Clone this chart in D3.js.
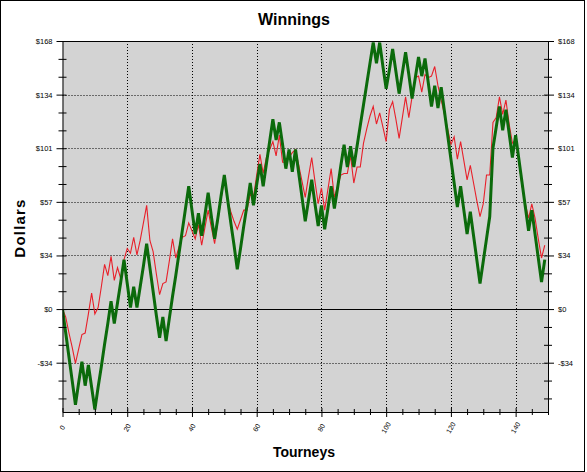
<!DOCTYPE html>
<html><head><meta charset="utf-8">
<script src="https://cdn.jsdelivr.net/npm/d3@7/dist/d3.min.js"></script>
<style>
body{margin:0;background:#fff;}
svg{display:block;}
text{font-family:"Liberation Sans",Arial,sans-serif;}
</style>
</head><body>
<svg id="chart" width="587" height="472"></svg>
<script>
// ---- data ----
const redSeries = [0,-5,-15,-24,-34,-25,-16,-15,-3,10,
  -3,1,14,28,21,33,18,26,19,31,
  38,35,45,34,43,54,65,43,36,22,
  9,16,17,30,44,32,39,45,46,54,
  49,44,53,40,51,62,51,41,55,69,
  82,68,61,55,50,56,62,62,72,70,
  84,97,85,95,100,105,96,109,92,92,
  95,98,100,90,80,70,83,95,80,66,
  76,62,75,88,70,77,84,85,85,96,
  79,89,89,104,113,121,127,116,123,114,
  105,125,130,119,107,120,133,120,133,145,
  146,136,147,145,146,152,140,131,122,113,
  103,108,94,105,93,81,90,79,68,58,
  66,84,84,117,120,133,122,131,116,104,
  106,92,77,66,57,66,57,44,32,40];
const greenSeries = [0,-15,-30,-45,-60,-46,-33,-48,-35,-49,
  -63,-49,-36,-22,-9,5,-9,4,17,31,
  16,1,14,1,14,27,41,26,11,-4,
  -18,-5,-20,-6,8,21,35,49,63,77,
  62,47,60,46,59,73,58,44,57,71,
  84,69,54,40,25,38,52,65,79,65,
  78,91,77,91,105,119,106,117,103,88,
  100,86,100,85,70,55,68,81,66,52,
  65,50,63,77,63,76,90,103,89,102,
  89,102,115,128,141,154,167,154,167,152,
  138,150,163,149,135,148,161,147,132,145,
  158,146,157,142,127,140,126,139,124,109,
  94,79,64,77,62,47,61,46,31,16,
  30,44,58,101,114,127,112,125,110,95,
  109,94,79,64,49,62,47,32,17,31];
const xTickValues = [0,20,40,60,80,100,120,140];
const xTickLabels = ["0","20","40","60","80","100","120","140"];
const yTickValues = [-33.6,0,33.6,67.2,100.8,134.4,168];
const yTickLabels = ["-$34","$0","$34","$57","$101","$134","$168"];
const xMinorStep = 5, yMinorStep = 11.2;

// ---- layout ----
const svg = d3.select("#chart");
const L = 62.5, R = 548, T = 41, B = 412;
const x = d3.scaleLinear().domain([0,150]).range([L,R]);
const y = d3.scaleLinear().domain([-64.5,168]).range([B,T]);

svg.append("rect").attr("x",0.5).attr("y",0.5).attr("width",584).attr("height",471)
  .attr("fill","#fff").attr("stroke","#000");

svg.append("defs").append("clipPath").attr("id","plotclip")
  .append("rect").attr("x",L).attr("y",T).attr("width",R-L).attr("height",B-T);

svg.append("rect").attr("x",L).attr("y",T).attr("width",R-L).attr("height",B-T)
  .attr("fill","#d3d3d3");

// grid
const grid = svg.append("g").attr("stroke","#000").attr("stroke-width",1).attr("stroke-dasharray","1,2");
grid.selectAll("line.v").data(xTickValues.filter(d=>d>0)).join("line")
  .attr("x1",d=>Math.round(x(d))+0.5).attr("x2",d=>Math.round(x(d))+0.5)
  .attr("y1",T).attr("y2",B);
grid.selectAll("line.h").data(yTickValues.filter(d=>d!==0 && d<168)).join("line")
  .attr("y1",d=>Math.round(y(d))+0.5).attr("y2",d=>Math.round(y(d))+0.5)
  .attr("x1",L).attr("x2",R);
svg.append("line").attr("x1",L).attr("x2",R)
  .attr("y1",Math.round(y(0))+0.5).attr("y2",Math.round(y(0))+0.5).attr("stroke","#000");

// lines
const plot = svg.append("g").attr("clip-path","url(#plotclip)");
const line = d3.line().x((d,i)=>x(i)).y(d=>y(d));
plot.append("path").datum(redSeries).attr("d",line).attr("fill","none")
  .attr("stroke","#e8202a").attr("stroke-width",1.1).attr("stroke-linejoin","miter");
plot.append("path").datum(greenSeries).attr("d",line).attr("fill","none")
  .attr("stroke","#0b6a0b").attr("stroke-width",3).attr("stroke-linejoin","miter");

svg.append("line").attr("x1",L).attr("x2",R).attr("y1",T+0.5).attr("y2",T+0.5).attr("stroke","#000");

// minor tick values
const yMinor = d3.range(-56, 168.1, yMinorStep).filter(v=>!yTickValues.some(t=>Math.abs(t-v)<0.5));
const xMinor = d3.range(0, 150.1, xMinorStep).filter(v=>v%20!==0);

function styleAxis(g){ g.select(".domain").attr("stroke","#000"); g.selectAll("line").attr("stroke","#000"); }

// left axis
const gl = svg.append("g").attr("transform",`translate(${L},0)`)
  .call(d3.axisLeft(y).tickValues(yTickValues).tickFormat((d,i)=>yTickLabels[i]).tickSizeOuter(0).tickSizeInner(6).tickPadding(4));
gl.selectAll(".tick line").attr("x1",4);
gl.selectAll("text").attr("font-size","7.5px").attr("font-family","'Liberation Sans',Arial,sans-serif");
styleAxis(gl);
const glm = svg.append("g").attr("transform",`translate(${L},0)`)
  .call(d3.axisLeft(y).tickValues(yMinor).tickFormat("").tickSizeOuter(0).tickSizeInner(4));
glm.select(".domain").remove(); glm.selectAll(".tick line").attr("x1",4).attr("stroke","#000");

// right axis
const gr = svg.append("g").attr("transform",`translate(${R},0)`)
  .call(d3.axisRight(y).tickValues(yTickValues).tickFormat((d,i)=>yTickLabels[i]).tickSizeOuter(0).tickSizeInner(6).tickPadding(4));
gr.selectAll(".tick line").attr("x1",-4);
gr.selectAll("text").attr("font-size","7.5px").attr("font-family","'Liberation Sans',Arial,sans-serif");
styleAxis(gr);
const grm = svg.append("g").attr("transform",`translate(${R},0)`)
  .call(d3.axisRight(y).tickValues(yMinor).tickFormat("").tickSizeOuter(0).tickSizeInner(4));
grm.select(".domain").remove(); grm.selectAll(".tick line").attr("x1",-4).attr("stroke","#000");

// bottom axis
const gb = svg.append("g").attr("transform",`translate(0,${B})`)
  .call(d3.axisBottom(x).tickValues(xTickValues).tickFormat((d,i)=>xTickLabels[i]).tickSizeOuter(0).tickSizeInner(5));
gb.selectAll(".tick line").attr("y1",-4);
gb.selectAll("text").attr("font-size","7px").attr("font-family","'Liberation Sans',Arial,sans-serif")
  .attr("text-anchor","middle").attr("dy",null).attr("y",0)
  .attr("dominant-baseline","middle")
  .attr("transform","translate(0,16) rotate(-60)");
styleAxis(gb);
const gbm = svg.append("g").attr("transform",`translate(0,${B})`)
  .call(d3.axisBottom(x).tickValues(xMinor).tickFormat("").tickSizeOuter(0).tickSizeInner(3));
gbm.select(".domain").remove(); gbm.selectAll(".tick line").attr("y1",-3).attr("stroke","#000");

// titles
svg.append("text").attr("x",294).attr("y",25).attr("text-anchor","middle")
  .attr("font-size","16px").attr("font-weight","bold").text("Winnings");
svg.append("text").attr("x",304).attr("y",457).attr("text-anchor","middle")
  .attr("font-size","14px").attr("font-weight","bold").text("Tourneys");
svg.append("text").attr("transform","translate(25,228) rotate(-90)").attr("text-anchor","middle")
  .attr("font-size","15px").attr("font-weight","bold").attr("letter-spacing","1.2px").text("Dollars");
</script>
</body></html>
